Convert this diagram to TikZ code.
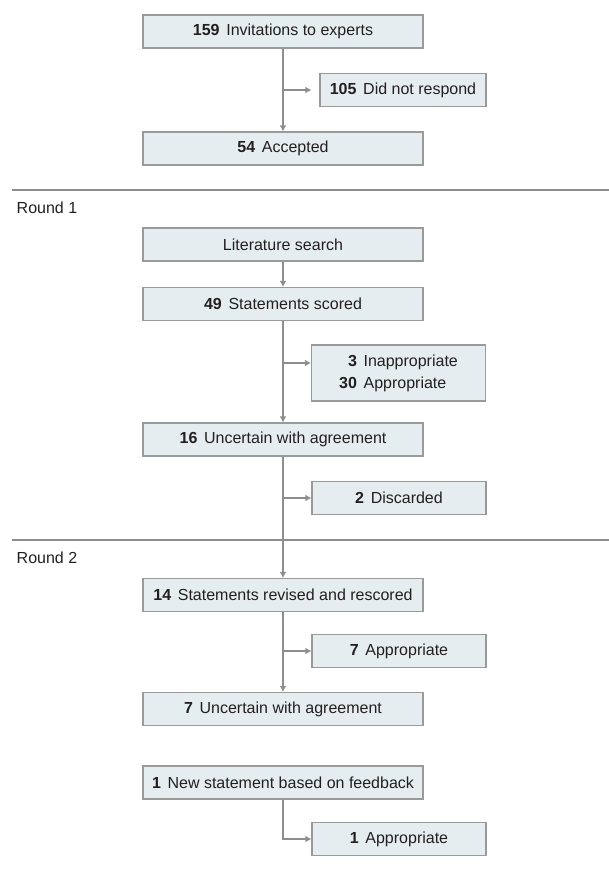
\documentclass[tikz,border=0pt]{standalone}
\usepackage{fontspec}
\setmainfont{Liberation Sans}
\usetikzlibrary{arrows.meta}
\definecolor{boite}{HTML}{E6EDF1}
\definecolor{bord}{HTML}{9A9A9A}
\definecolor{fleche}{HTML}{8E8E8E}
\definecolor{texte}{HTML}{231F20}
\newcommand{\chiffre}[1]{\textbf{#1}\hspace{5pt}}

\begin{document}
\begin{tikzpicture}[x=0.75pt,y=-0.75pt,
    font=\fontsize{12}{14}\selectfont, text=texte,
    etape/.style={draw=bord, fill=boite, line width=0.8pt,
        minimum width=210pt, minimum height=24.75pt, inner sep=0pt},
    cote/.style={etape, minimum width=130.5pt},
    fl/.style={draw=fleche, line width=0.8pt, -{Latex[length=4.5pt,width=5pt]}},
    sep/.style={draw=fleche, line width=1.5pt}]
    \useasboundingbox (0,0) rectangle (609,878);

    % Invitations
    \node[etape] (inv) at (283,31.5) {\chiffre{159}Invitations to experts};
    \node[cote, minimum width=124.5pt] (norep) at (403,90) {\chiffre{105}Did not respond};
    \node[etape] (acc) at (283,148.5) {\chiffre{54}Accepted};
    \coordinate (b1) at (283,90);
    \draw[fl] (inv) -- (acc);
    \draw[fl, shorten >=6pt] (b1) -- (norep);

    % Tour 1
    \draw[sep] (12,190) -- (609,190);
    \node[anchor=west] (r1) at (12,208) {Round 1};
    \node[etape] (lit) at (283,244.5) {Literature search};
    \node[etape] (scored) at (283,304) {\chiffre{49}Statements scored};
    \node[cote, minimum height=42pt] (inapp) at (398.5,373) {%
        \def\arraystretch{1.18}%
        \begin{tabular}{@{}r@{\hspace{5pt}}l@{}}
            \textbf{3} & Inappropriate\\
            \textbf{30} & Appropriate
        \end{tabular}};
    \node[etape] (unc16) at (283,439.5) {\chiffre{16}Uncertain with agreement};
    \node[cote] (disc) at (399,498) {\chiffre{2}Discarded};
    \coordinate (b2) at (283,363);
    \coordinate (b3) at (283,498);
    \draw[fl] (lit) -- (scored);
    \draw[fl] (scored) -- (unc16);
    \draw[fl] (b2) -- (b2 -| inapp.west);
    \draw[fl] (b3) -- (disc);

    % Tour 2
    \draw[sep] (12,540) -- (609,540);
    \node[anchor=west] (r2) at (12,558) {Round 2};
    \node[etape] (rev14) at (283,595) {\chiffre{14}Statements revised and rescored};
    \node[cote] (app7) at (399,651) {\chiffre{7}Appropriate};
    \node[etape] (unc7) at (283,709) {\chiffre{7}Uncertain with agreement};
    \coordinate (b4) at (283,651);
    \draw[fl] (unc16) -- (rev14);
    \draw[fl] (rev14) -- (unc7);
    \draw[fl] (b4) -- (app7);

    % Nouvel enonce
    \node[etape] (new1) at (283,782.5) {\chiffre{1}New statement based on feedback};
    \node[cote] (app1) at (399,839) {\chiffre{1}Appropriate};
    \draw[fl] (new1) |- (app1);
\end{tikzpicture}
\end{document}
